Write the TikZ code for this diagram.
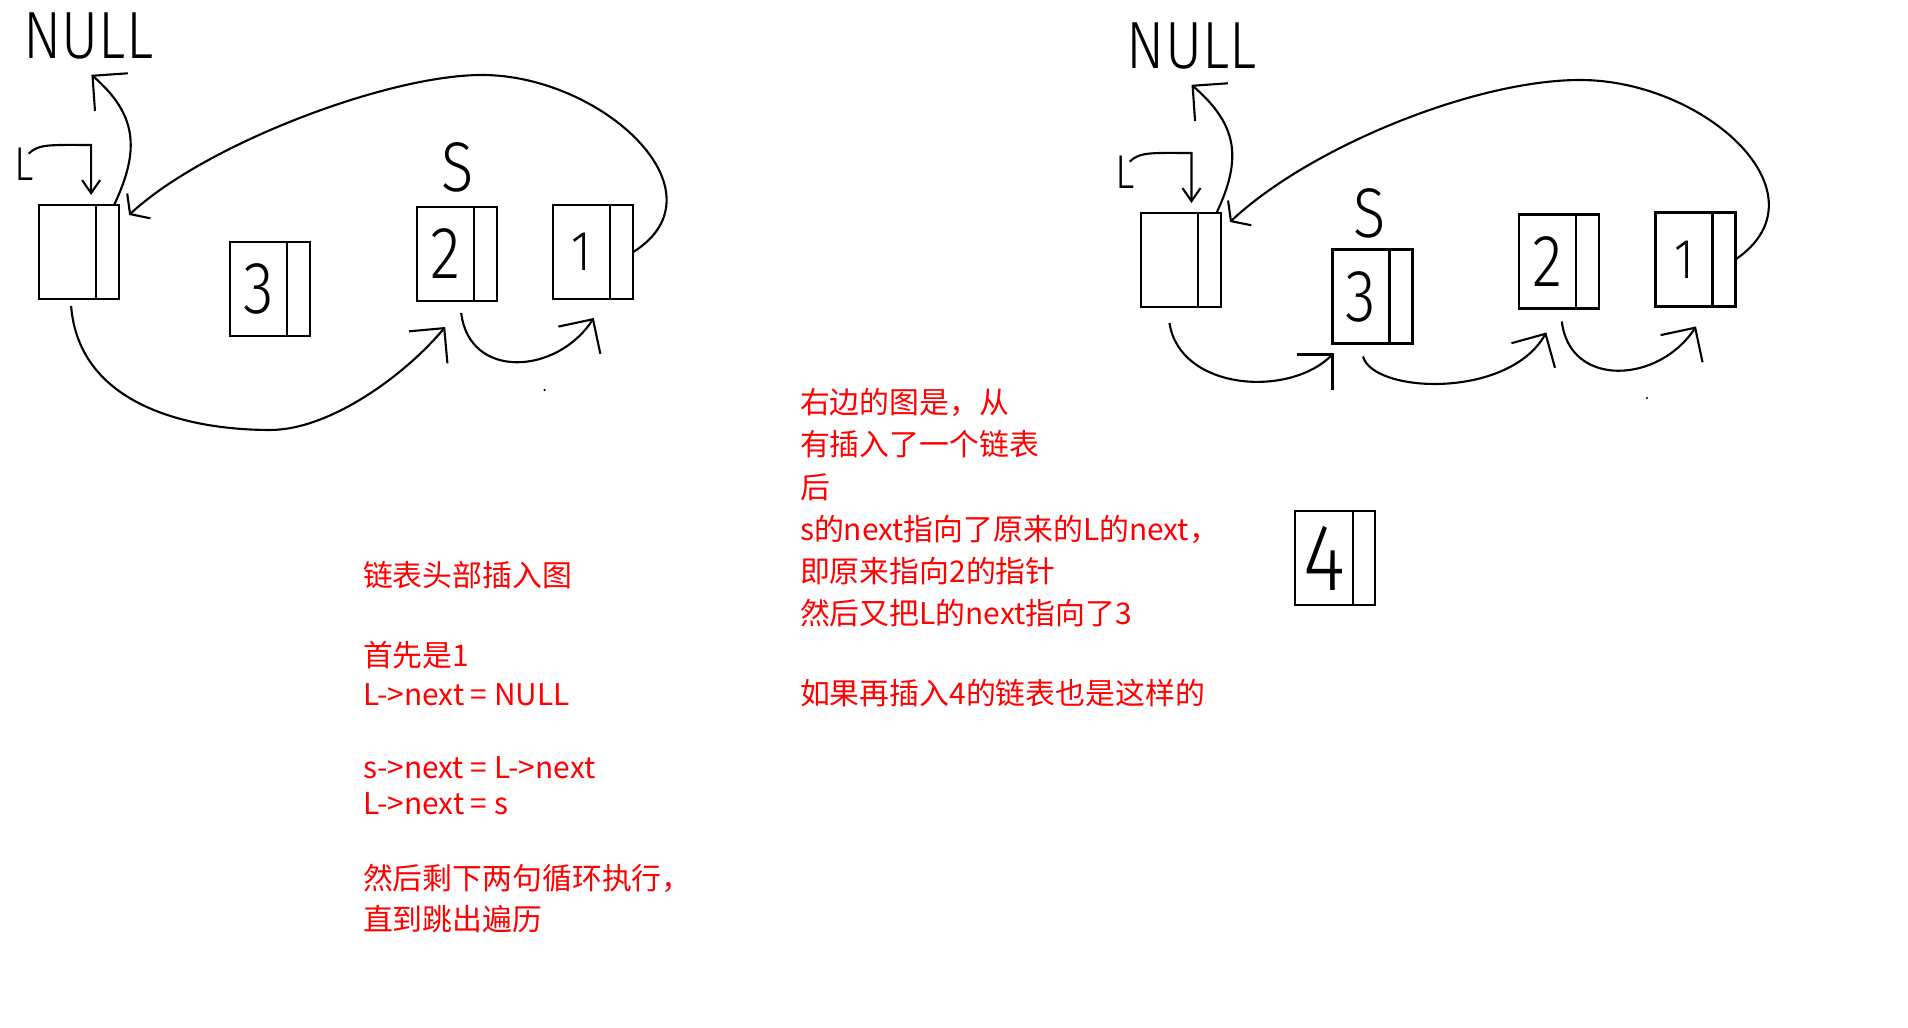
\documentclass[tikz,border=0pt]{standalone}
\usepackage{fontspec}
\newfontfamily\notefont{Noto Sans CJK SC}
\newfontfamily\handfont{Fira Sans Light}[FakeStretch=0.85]
\usepackage{tikz}
\usetikzlibrary{positioning,arrows.meta}

\begin{document}
\begin{tikzpicture}[
  x=0.1mm, y=-0.1mm, line width=0.6pt,
  datacell/.style={draw, minimum width=5.7mm, minimum height=9.4mm,
                   inner sep=0pt, outer sep=0pt,
                   font=\handfont\fontsize{#1}{#1}\selectfont},
  datacell/.default=21,
  nextcell/.style={draw, minimum width=2.3mm, minimum height=9.4mm,
                   inner sep=0pt, outer sep=0pt},
  handlbl/.style ={inner sep=0pt, font=\handfont\fontsize{#1}{#1}\selectfont},
  handlbl/.default=19,
  note/.style    ={anchor=base west, inner sep=0pt, text=red,
                   font=\notefont\fontsize{8.5}{10}\selectfont},
  arr/.style     ={-{Straight Barb[length=2.5mm,width=5mm]}},
  arrm/.style    ={-{Straight Barb[length=1.2mm,width=3.4mm]}},
  arrs/.style    ={-{Straight Barb[length=1.3mm,width=1.8mm]}}
]
\path[use as bounding box, fill=white] (0,0) rectangle (1908,1028);

%% --- Left list: before inserting 3 ---------------------------
\node[handlbl]    (nullA) at (88.4,36.5) {NULL};
\node[handlbl=13.5] (lA)  at (24,164)    {L};
\node[handlbl=20] (sA)    at (457.6,167) {S};

\node[datacell] (hA)  at (67.6,252)  {};
\node[nextcell, right=0pt of hA]  (hAn)  {};
\node[datacell] (b3A) at (258.4,289) {3};
\node[nextcell, right=0pt of b3A] (b3An) {};
\node[datacell] (b2A) at (445.2,254) {2};
\node[nextcell, right=0pt of b2A] (b2An) {};
\node[datacell=16] (b1A) at (581.8,252) {1};
\node[nextcell, right=0pt of b1A] (b1An) {};

% L -> head
\draw[arrs] ([xshift=-0.6mm,yshift=-0.7mm]lA.north east) .. controls +(10,-10) and +(-40,0)
     .. ([xshift=-0.5mm,yshift=6mm]hA.north east)
     -- ([xshift=-0.5mm,yshift=1mm]hA.north east);
% head -> NULL
\draw[arr] ([xshift=-0.5mm]hAn.north east) .. controls +(26,-55) and +(46,40)
     .. ([xshift=0.3mm,yshift=-1.4mm]nullA.south);
% 1 -> head, over the top
\draw[arrm] (b1An.east) .. controls +(95,-60) and +(120,0) .. (482,75)
     .. controls +(-95,0) and +(75,-70)
     .. ([xshift=1mm,yshift=-1mm]hAn.north east);
% head -> 2
\draw[arr] ([xshift=0.35mm,yshift=-0.7mm]hA.south) .. controls +(8,100) and +(-80,0) .. (270,430)
     .. controls +(60,0) and +(-40,48) .. ([yshift=-2.6mm]b2A.south);
% 2 -> 1
\draw[arr] ([xshift=1.6mm,yshift=-1.2mm]b2A.south) .. controls +(8,67) and +(-37,57)
     .. ([xshift=1.2mm,yshift=-1.9mm]b1A.south);
\fill (544.6,390) circle (0.12mm);

%% --- Right list: after inserting 3 ---------------------------
\node[handlbl]    (nullB) at (1191.5,46.5) {NULL};
\node[handlbl=13.5] (lB)  at (1125,172)    {L};
\node[handlbl=20] (sB)    at (1370,213)    {S};

\node[datacell] (hB)  at (1169.5,260)   {};
\node[nextcell, right=0pt of hB]  (hBn)  {};
\node[datacell] (b3B) at (1361,296.5)   {3};
\node[nextcell, right=0pt of b3B] (b3Bn) {};
\node[datacell] (b2B) at (1547.8,261.5) {2};
\node[nextcell, right=0pt of b2B] (b2Bn) {};
\node[datacell=16] (b1B) at (1684,259.5) {1};
\node[nextcell, right=0pt of b1B] (b1Bn) {};

\node[datacell=27, minimum width=5.8mm] (b4) at (1324,558) {4};
\node[nextcell, minimum width=2.2mm, right=0pt of b4] (b4n) {};

% L -> head
\draw[arrs] ([xshift=-0.6mm,yshift=-0.7mm]lB.north east) .. controls +(10,-10) and +(-40,0)
     .. ([xshift=-0.65mm,yshift=6mm]hB.north east)
     -- ([xshift=-0.65mm,yshift=1mm]hB.north east);
% head -> NULL
\draw[arr] ([xshift=-0.45mm]hBn.north east) .. controls +(26,-55) and +(46,40)
     .. ([yshift=-1.4mm]nullB.south);
% 1 -> head, over the top
\draw[arrm] (b1Bn.east) .. controls +(95,-65) and +(125,0) .. (1580,80)
     .. controls +(-105,0) and +(80,-75)
     .. ([xshift=0.9mm,yshift=-0.9mm]hBn.north east);
% head -> 3
\draw[arr] ([yshift=-1.6mm]hB.south) .. controls +(10,67) and +(-45,45)
     .. ([xshift=0.1mm,yshift=-1mm]b3B.south west);
% 3 -> 2
\draw[arr] ([xshift=0.2mm,yshift=-1.3mm]b3B.south) .. controls +(10,37) and +(-38,67)
     .. ([xshift=-0.15mm,yshift=-2.4mm]b2B.south);
% 2 -> 1
\draw[arr] ([xshift=1.4mm,yshift=-1.3mm]b2B.south) .. controls +(8,67) and +(-37,57)
     .. ([xshift=1.2mm,yshift=-2mm]b1B.south);
\fill (1647,398) circle (0.12mm);

%% --- Notes ---------------------------------------------------
\node[note] (capA1) at (362,587) {链表头部插入图};
\node[note] (capA2) at (362,667) {首先是1};
\node[note] (capA3) at (362,706) {L->next = NULL};
\node[note] (capA4) at (362,779) {s->next = L->next};
\node[note] (capA5) at (362,815) {L->next = s};
\node[note] (capA6) at (362,890) {然后剩下两句循环执行，};
\node[note] (capA7) at (362,931) {直到跳出遍历};

\node[note] (capB1) at (799,414) {右边的图是，从};
\node[note] (capB2) at (799,456) {有插入了一个链表};
\node[note] (capB3) at (799,499) {后};
\node[note] (capB4) at (799,541) {s的next指向了原来的L的next，};
\node[note] (capB5) at (799,583) {即原来指向2的指针};
\node[note] (capB6) at (799,625) {然后又把L的next指向了3};
\node[note] (capB7) at (799,705) {如果再插入4的链表也是这样的};

\end{tikzpicture}
\end{document}
